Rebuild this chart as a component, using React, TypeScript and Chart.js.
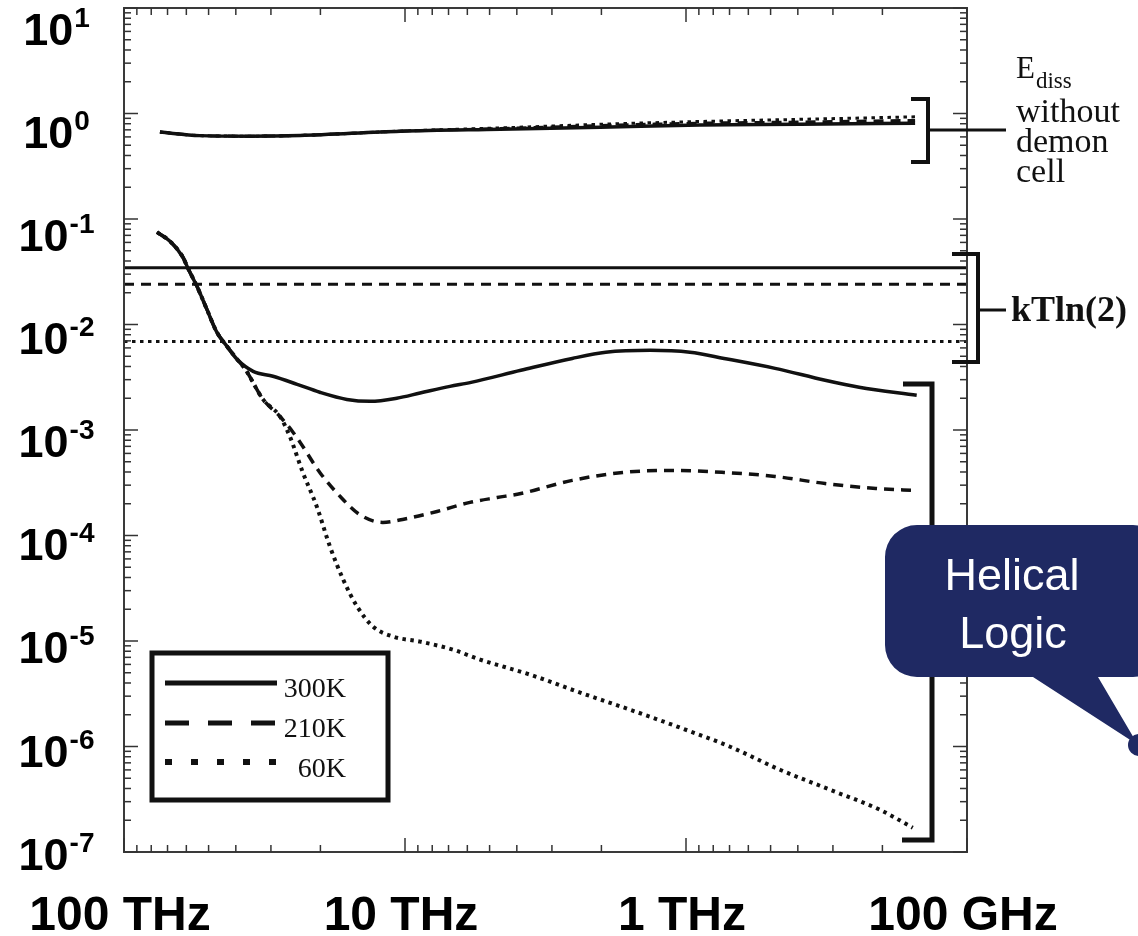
import React, { useEffect, useRef } from 'react';
import { Chart, registerables } from 'chart.js';

Chart.register(...registerables);

// ---- data (frequency in THz, dissipated energy) ----
const freq300 = [76.3, 68.6, 61.7, 59.2, 55.0, 50.7, 46.7, 43.0, 39.6, 34.7, 29.5, 24.2, 20.1, 16.1, 13.3, 10.7, 8.84, 6.92, 5.82, 3.87, 2.54, 1.93, 1.34, 0.968, 0.732, 0.482, 0.32, 0.242, 0.151];
const energy300 = [0.075, 0.0615, 0.0434, 0.0341, 0.023, 0.0139, 0.00843, 0.00621, 0.00468, 0.0036, 0.00323, 0.00271, 0.00228, 0.00195, 0.00187, 0.002, 0.00224, 0.00259, 0.00283, 0.00368, 0.00477, 0.00545, 0.00569, 0.00545, 0.00477, 0.00384, 0.00296, 0.00254, 0.00213];

const freq210 = [76.3, 68.6, 61.7, 59.2, 55.0, 50.7, 46.7, 43.0, 39.6, 37.1, 32.0, 27.9, 25.0, 23.6, 20.1, 17.0, 14.5, 12.0, 10.2, 7.69, 5.87, 4.7, 3.87, 2.54, 1.68, 1.11, 0.732, 0.482, 0.32, 0.211, 0.151];
const energy210 = [0.075, 0.0615, 0.0434, 0.0341, 0.023, 0.0139, 0.00843, 0.00621, 0.00468, 0.0038, 0.00195, 0.00135, 0.000948, 0.000762, 0.000396, 0.000234, 0.000158, 0.000133, 0.000142, 0.000169, 0.000206, 0.000229, 0.00025, 0.000333, 0.000396, 0.000414, 0.000396, 0.000363, 0.000311, 0.000279, 0.000267];

const freq60 = [76.3, 68.6, 61.7, 59.2, 55.0, 50.7, 46.7, 43.0, 39.6, 37.1, 32.0, 27.9, 25.7, 23.1, 20.6, 18.5, 16.6, 14.8, 13.0, 11.0, 8.84, 6.75, 5.41, 3.59, 2.38, 1.58, 1.05, 0.697, 0.463, 0.307, 0.204, 0.156];
const energy60 = [0.075, 0.0615, 0.0434, 0.0341, 0.023, 0.0139, 0.00843, 0.00621, 0.00468, 0.0038, 0.00195, 0.00135, 0.000869, 0.000396, 0.000188, 0.0000787, 0.0000383, 0.0000212, 0.0000137, 0.000011, 0.00000987, 0.00000828, 0.00000667, 0.0000048, 0.00000324, 0.00000223, 0.00000151, 0.000000995, 0.000000602, 0.000000389, 0.000000251, 0.00000017];

const freqNoDemon = [74.5, 53.7, 35.6, 23.6, 10.4, 4.59, 2.02, 0.892, 0.393, 0.153];
const noDemon300 = [0.667, 0.617, 0.61, 0.62, 0.68, 0.71, 0.74, 0.78, 0.79, 0.81];
const noDemon210 = [0.667, 0.617, 0.61, 0.62, 0.68, 0.72, 0.77, 0.81, 0.83, 0.86];
const noDemon60 = [0.667, 0.617, 0.61, 0.62, 0.68, 0.73, 0.79, 0.84, 0.88, 0.93];

const kTln2Values = [0.0345, 0.0241, 0.0069];
const kTln2Span = [100, 0.1];

const temperatures = ['300K', '210K', '60K'];
const yTickExponents = [1, 0, -1, -2, -3, -4, -5, -6, -7];
const xTickValues = [100, 10, 1, 0.1];
const xTickLabels = ['100 THz', '10 THz', '1 THz', '100 GHz'];

const INK = '#111111';
const SANS = '"Liberation Sans", Arial, sans-serif';
const SERIF = '"Liberation Serif", "Times New Roman", serif';

const pts = (xs: number[], ys: number[]) => xs.map((x, i) => ({ x, y: ys[i] }));

const dashSolid: number[] = [];
const dashDashed = [10, 7];
const dashDotted = [3.5, 4.5];
const styles = [dashSolid, dashDashed, dashDotted];

function line(ctx: CanvasRenderingContext2D, x1: number, y1: number, x2: number, y2: number) {
  ctx.beginPath();
  ctx.moveTo(x1, y1);
  ctx.lineTo(x2, y2);
  ctx.stroke();
}

const decorPlugin = {
  id: 'decor',
  afterDraw(chart: any) {
    const { ctx, chartArea: a, scales } = chart;
    const xs = scales.x;
    const ys = scales.y;
    ctx.save();
    ctx.setLineDash([]);

    // frame
    ctx.strokeStyle = '#3a3a3a';
    ctx.lineWidth = 2;
    ctx.strokeRect(a.left, a.top, a.right - a.left, a.bottom - a.top);

    // y ticks (inward, left & right)
    ctx.lineWidth = 1.5;
    ctx.strokeStyle = '#333';
    for (let e = -7; e <= 1; e++) {
      for (let m = 1; m <= 9; m++) {
        const v = m * Math.pow(10, e);
        if (v > 10.0001) continue;
        const py = ys.getPixelForValue(v);
        const len = m === 1 ? 14 : 7;
        line(ctx, a.left, py, a.left + len, py);
        line(ctx, a.right, py, a.right - len, py);
      }
    }
    // x ticks (inward, top & bottom)
    for (let e = -1; e <= 2; e++) {
      for (let m = 1; m <= 9; m++) {
        const v = m * Math.pow(10, e);
        if (v > 100.0001) continue;
        const px = xs.getPixelForValue(v);
        const len = m === 1 ? 14 : 7;
        line(ctx, px, a.bottom, px, a.bottom - len);
        line(ctx, px, a.top, px, a.top + len);
      }
    }

    // y labels: 10^e
    ctx.fillStyle = '#000';
    ctx.textBaseline = 'alphabetic';
    ctx.textAlign = 'left';
    yTickExponents.forEach((e) => {
      const py = ys.getPixelForValue(Math.pow(10, e));
      const base = a.top + 37 + 0.977 * (py - a.top);
      const expStr = e < 0 ? '-' + Math.abs(e) : String(e);
      ctx.font = 'bold 45px ' + SANS;
      const w10 = ctx.measureText('10').width;
      ctx.font = 'bold 28px ' + SANS;
      const we = ctx.measureText(expStr).width;
      const x0 = 56 - (w10 + we) / 2;
      ctx.font = 'bold 45px ' + SANS;
      ctx.fillText('10', x0, base);
      ctx.font = 'bold 28px ' + SANS;
      ctx.fillText(expStr, x0 + w10 + 1, base - 18);
    });

    // x labels
    ctx.font = 'bold 48px ' + SANS;
    ctx.textAlign = 'center';
    xTickValues.forEach((v, i) => {
      const px = xs.getPixelForValue(v);
      ctx.fillText(xTickLabels[i], px - 4, 930);
    });

    // legend
    ctx.fillStyle = '#fff';
    ctx.fillRect(152, 653, 236, 147);
    ctx.strokeStyle = INK;
    ctx.lineWidth = 5;
    ctx.strokeRect(152, 653, 236, 147);
    const legendDash = [[], [24, 19], [7, 19]];
    const legendY = [683, 723, 762];
    const legendText = [697, 737, 777];
    temperatures.forEach((t, i) => {
      ctx.setLineDash(legendDash[i]);
      ctx.lineCap = 'butt';
      ctx.lineWidth = i === 2 ? 6 : 5;
      line(ctx, 165, legendY[i], 277, legendY[i]);
      ctx.setLineDash([]);
      ctx.fillStyle = INK;
      ctx.font = '28px ' + SERIF;
      ctx.textAlign = 'right';
      ctx.fillText(t, 346, legendText[i]);
    });

    // E_diss bracket
    ctx.strokeStyle = INK;
    ctx.lineWidth = 4;
    ctx.lineJoin = 'miter';
    ctx.beginPath();
    ctx.moveTo(911, 99);
    ctx.lineTo(928, 99);
    ctx.lineTo(928, 162);
    ctx.lineTo(911, 162);
    ctx.stroke();
    ctx.lineWidth = 3;
    line(ctx, 928, 130, 1006, 130);

    ctx.textAlign = 'left';
    ctx.fillStyle = INK;
    ctx.font = '31px ' + SERIF;
    ctx.fillText('E', 1016, 78);
    const wE = ctx.measureText('E').width;
    ctx.font = '23px ' + SERIF;
    ctx.fillText('diss', 1016 + wE + 1, 88);
    ctx.font = '34px ' + SERIF;
    ctx.fillText('without', 1016, 122);
    ctx.fillText('demon', 1016, 152);
    ctx.fillText('cell', 1016, 182);

    // kTln(2) bracket
    ctx.lineWidth = 4;
    ctx.beginPath();
    ctx.moveTo(952, 254);
    ctx.lineTo(978, 254);
    ctx.lineTo(978, 362);
    ctx.lineTo(952, 362);
    ctx.stroke();
    ctx.lineWidth = 3;
    line(ctx, 978, 310, 1006, 310);
    ctx.font = 'bold 36px ' + SERIF;
    ctx.fillText('kTln(2)', 1011, 321);

    // helical logic bracket
    ctx.lineWidth = 5;
    ctx.beginPath();
    ctx.moveTo(903, 384);
    ctx.lineTo(932, 384);
    ctx.lineTo(932, 840);
    ctx.lineTo(902, 840);
    ctx.stroke();

    // speech bubble
    const navy = '#1F2963';
    ctx.fillStyle = navy;
    const bx = 885, by = 525, bw = 280, bh = 152, r = 32;
    ctx.beginPath();
    ctx.moveTo(bx + r, by);
    ctx.lineTo(bx + bw - r, by);
    ctx.arcTo(bx + bw, by, bx + bw, by + r, r);
    ctx.lineTo(bx + bw, by + bh - r);
    ctx.arcTo(bx + bw, by + bh, bx + bw - r, by + bh, r);
    ctx.lineTo(1098, by + bh);
    ctx.lineTo(1138, 745);
    ctx.lineTo(1033, by + bh);
    ctx.lineTo(bx + r, by + bh);
    ctx.arcTo(bx, by + bh, bx, by + bh - r, r);
    ctx.lineTo(bx, by + r);
    ctx.arcTo(bx, by, bx + r, by, r);
    ctx.closePath();
    ctx.fill();
    ctx.beginPath();
    ctx.arc(1139, 745, 11, 0, Math.PI * 2);
    ctx.fill();
    ctx.fillStyle = '#fff';
    ctx.font = '45px ' + SANS;
    ctx.textAlign = 'center';
    ctx.fillText('Helical', 1012, 590);
    ctx.fillText('Logic', 1013, 648);

    ctx.restore();
  },
};

function curve(data: { x: number; y: number }[], dash: number[], width: number) {
  return {
    data,
    borderColor: INK,
    borderWidth: width,
    borderDash: dash,
    borderCapStyle: 'butt' as const,
    pointRadius: 0,
    fill: false,
    cubicInterpolationMode: 'monotone' as const,
  };
}

export default function App() {
  const ref = useRef<HTMLCanvasElement>(null);
  useEffect(() => {
    const datasets: any[] = [
      curve(pts(freqNoDemon, noDemon60), dashDotted, 3),
      curve(pts(freqNoDemon, noDemon210), dashDashed, 3),
      curve(pts(freqNoDemon, noDemon300), dashSolid, 3.5),
      ...kTln2Values.map((k, i) => curve(kTln2Span.map((x) => ({ x, y: k })), styles[i], 3)),
      curve(pts(freq60, energy60), dashDotted, 4),
      curve(pts(freq210, energy210), dashDashed, 3.5),
      curve(pts(freq300, energy300), dashSolid, 3.5),
    ];
    const chart = new Chart(ref.current as HTMLCanvasElement, {
      type: 'line',
      data: { datasets },
      options: {
        responsive: false,
        animation: false,
        parsing: true,
        layout: { padding: { left: 124, top: 8, right: 171, bottom: 84 } },
        plugins: { legend: { display: false }, tooltip: { enabled: false } },
        scales: {
          x: { type: 'logarithmic', reverse: true, min: 0.1, max: 100, display: false },
          y: { type: 'logarithmic', min: 1e-7, max: 10, display: false },
        },
      } as any,
      plugins: [decorPlugin],
    });
    return () => chart.destroy();
  }, []);
  return (
    <div style={{ position: 'fixed', left: 0, top: 0, width: 1138, height: 936, background: '#fff', overflow: 'hidden' }}>
      <canvas ref={ref} width={1138} height={936} style={{ display: 'block', width: 1138, height: 936 }} />
    </div>
  );
}
